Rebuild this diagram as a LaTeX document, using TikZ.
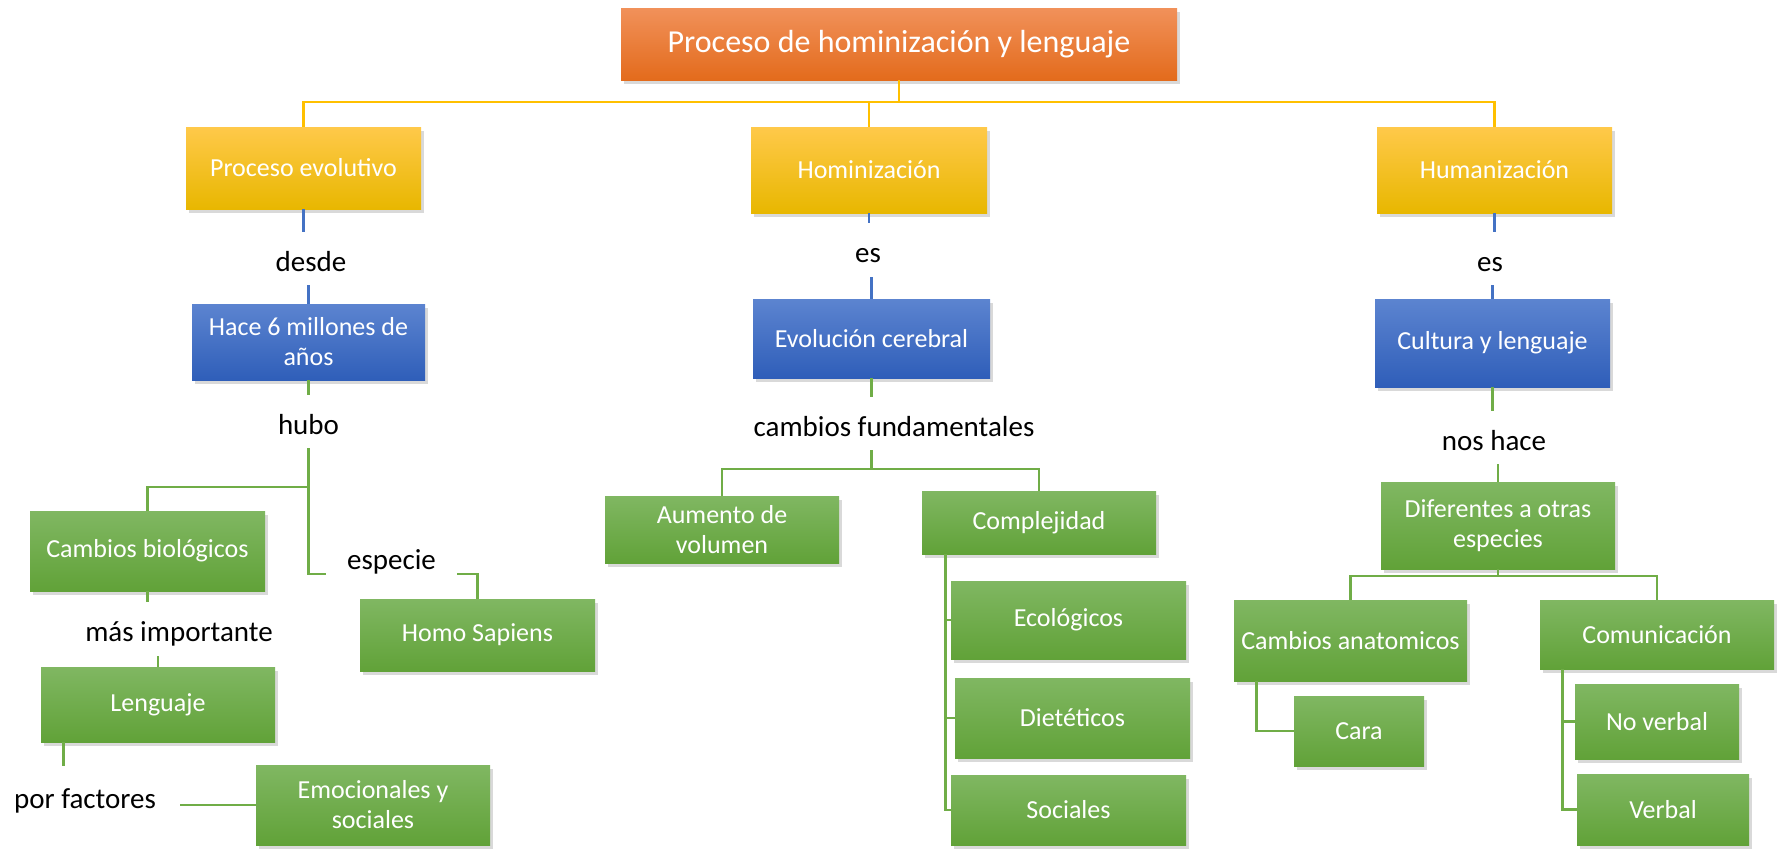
\documentclass[tikz,border=0pt]{standalone}
\usepackage{fontspec}
\setmainfont{Carlito}
\usetikzlibrary{shadows}
\definecolor{orT}{HTML}{F1915A}
\definecolor{orM}{HTML}{F47D2A}
\definecolor{orB}{HTML}{E36B1C}
\definecolor{ylT}{HTML}{FFC94A}
\definecolor{ylM}{HTML}{FFC000}
\definecolor{ylB}{HTML}{E8B700}
\definecolor{blT}{HTML}{5C84D0}
\definecolor{blM}{HTML}{4472C4}
\definecolor{blB}{HTML}{2F5EB9}
\definecolor{grT}{HTML}{80B762}
\definecolor{grM}{HTML}{70AD47}
\definecolor{grB}{HTML}{61A238}
\definecolor{lnY}{HTML}{FFC000}
\definecolor{lnB}{HTML}{4472C4}
\definecolor{lnG}{HTML}{70AD47}
\tikzset{
  box/.style={rectangle, text=white, align=center, inner sep=2pt,
    font=\fontsize{26}{30}\selectfont,
    drop shadow={shadow xshift=3pt, shadow yshift=-4pt, opacity=0.3}},
  wh/.style 2 args={minimum width=#1pt, minimum height=#2pt},
  orbox/.style={box, top color=orT, middle color=orM, bottom color=orB},
  ylbox/.style={box, top color=ylT, middle color=ylM, bottom color=ylB},
  blbox/.style={box, top color=blT, middle color=blM, bottom color=blB},
  grbox/.style={box, top color=grT, middle color=grM, bottom color=grB},
  lab/.style={inner sep=0pt, text=black, font=\fontsize{29}{34}\selectfont},
  lbl/.style={lab, text height=25pt, text depth=0pt},
  yl/.style={draw=lnY, line width=2.8pt},
  bl/.style={draw=lnB, line width=2.8pt},
  gl/.style={draw=lnG, line width=2.8pt},
}
\begin{document}
\begin{tikzpicture}[x=1pt,y=-1pt]
\useasboundingbox (0,0) rectangle (1780,849);
% boxes
\node[orbox, wh={556}{72}, font=\fontsize{32}{38}\selectfont] (title) at (899,44) {Proceso de hominización y lenguaje};
\node[ylbox, wh={235}{82}] (pe) at (303.5,168) {Proceso evolutivo};
\node[ylbox, wh={236}{86}] (hom) at (869,170) {Hominización};
\node[ylbox, wh={235}{86}] (hum) at (1494.5,170) {Humanización};
\node[blbox, wh={233}{76}] (hace) at (308.5,342) {Hace 6 millones de\\años};
\node[blbox, wh={237}{79}] (evo) at (871.5,338.5) {Evolución cerebral};
\node[blbox, wh={235}{88}] (cul) at (1492.5,343) {Cultura y lenguaje};
\node[grbox, wh={235}{80}] (cbio) at (147.5,551) {Cambios biológicos};
\node[grbox, wh={235}{72}] (homo) at (477.5,635) {Homo Sapiens};
\node[grbox, wh={234}{75}] (len) at (158,704.5) {Lenguaje};
\node[grbox, wh={234}{80}] (emo) at (373,805) {Emocionales y\\sociales};
\node[grbox, wh={234}{67}] (aum) at (722,529.5) {Aumento de\\volumen};
\node[grbox, wh={234}{63}] (comp) at (1039,522.5) {Complejidad};
\node[grbox, wh={235}{78}] (eco) at (1068.5,620) {Ecológicos};
\node[grbox, wh={235}{80}] (die) at (1072.5,718) {Dietéticos};
\node[grbox, wh={235}{70}] (soc) at (1068.5,810) {Sociales};
\node[grbox, wh={234}{87}] (dif) at (1498,525.5) {Diferentes a otras\\especies};
\node[grbox, wh={233}{81}] (anat) at (1350.5,640.5) {Cambios anatomicos};
\node[grbox, wh={234}{69}] (comu) at (1657,634.5) {Comunicación};
\node[grbox, wh={130}{70}] (cara) at (1359,731) {Cara};
\node[grbox, wh={164}{75}] (nov) at (1657,721.5) {No verbal};
\node[grbox, wh={172}{71}] (verb) at (1663,809.5) {Verbal};
% labels
\node[lbl, minimum height=53pt] (desde) at (311,258.5) {desde};
\node[lbl, minimum height=54pt] (es1) at (868,250) {es};
\node[lbl, minimum height=53pt] (es2) at (1490,258.5) {es};
\node[lbl, minimum height=53pt] (hubo) at (308.5,421.5) {hubo};
\node[lbl, minimum height=53pt] (cf) at (894,423.5) {cambios fundamentales};
\node[lbl, minimum height=53pt] (nos) at (1494,437.5) {nos hace};
\node[lbl, minimum height=54pt] (mas) at (179,629) {más importante};
\node[lab, anchor=south, inner xsep=21pt] (esp) at (391.5,574) {especie};
\node[lbl, inner xsep=24pt, minimum height=60pt] (pf) at (85,796) {por factores};
% junctions
\coordinate (j0) at (899,102);
\coordinate (j1) at (308.5,487);
\coordinate (j2) at (871.5,469);
\coordinate (j3) at (1498,576);
% title connectors
\draw[yl] (title.south) -- (j0);
\draw[yl] (j0) -| (pe.north);
\draw[yl] (j0) -| (hom.north);
\draw[yl] (j0) -| (hum.north);
% blue connectors
\draw[bl] (pe.south) -- (pe.south |- desde.north);
\draw[bl] (hace.north) -- (hace.north |- desde.south);
\draw[bl] (hom.south) -- (hom.south |- es1.north);
\draw[bl] (evo.north) -- (evo.north |- es1.south);
\draw[bl] (hum.south) -- (hum.south |- es2.north);
\draw[bl] (cul.north) -- (cul.north |- es2.south);
% left branch
\draw[gl] (hace.south) -- (hace.south |- hubo.north);
\draw[gl] (hace.south |- hubo.south) -- (hace.south |- esp.south west) -- (esp.south west);
\draw[gl] (j1) -| (cbio.north);
\draw[gl] (esp.south east) -| (homo.north);
\draw[gl] (cbio.south) -- (cbio.south |- mas.north);
\draw[gl] (len.north) -- (len.north |- mas.south);
\draw[gl] ([xshift=23pt]len.south west) -- ([xshift=23pt]len.south west |- pf.north);
\draw[gl] (emo.west) -- (emo.west -| pf.east);
% middle branch
\draw[gl] (evo.south) -- (evo.south |- cf.north);
\draw[gl] (evo.south |- cf.south) -- (j2);
\draw[gl] (j2) -| (aum.north);
\draw[gl] (j2) -| (comp.north);
\draw[gl] ([xshift=24pt]comp.south west) |- (eco.west);
\draw[gl] ([xshift=24pt]comp.south west) |- (die.west);
\draw[gl] ([xshift=24pt]comp.south west) |- (soc.west);
% right branch
\draw[gl] (cul.south) -- (cul.south |- nos.north);
\draw[gl] (dif.north) -- (dif.north |- nos.south);
\draw[gl] (dif.south) -- (j3);
\draw[gl] (j3) -| (anat.north);
\draw[gl] (j3) -| (comu.north);
\draw[gl] ([xshift=23pt]anat.south west) |- (cara.west);
\draw[gl] ([xshift=23pt]comu.south west) |- (nov.west);
\draw[gl] ([xshift=23pt]comu.south west) |- (verb.west);
\end{tikzpicture}
\end{document}
